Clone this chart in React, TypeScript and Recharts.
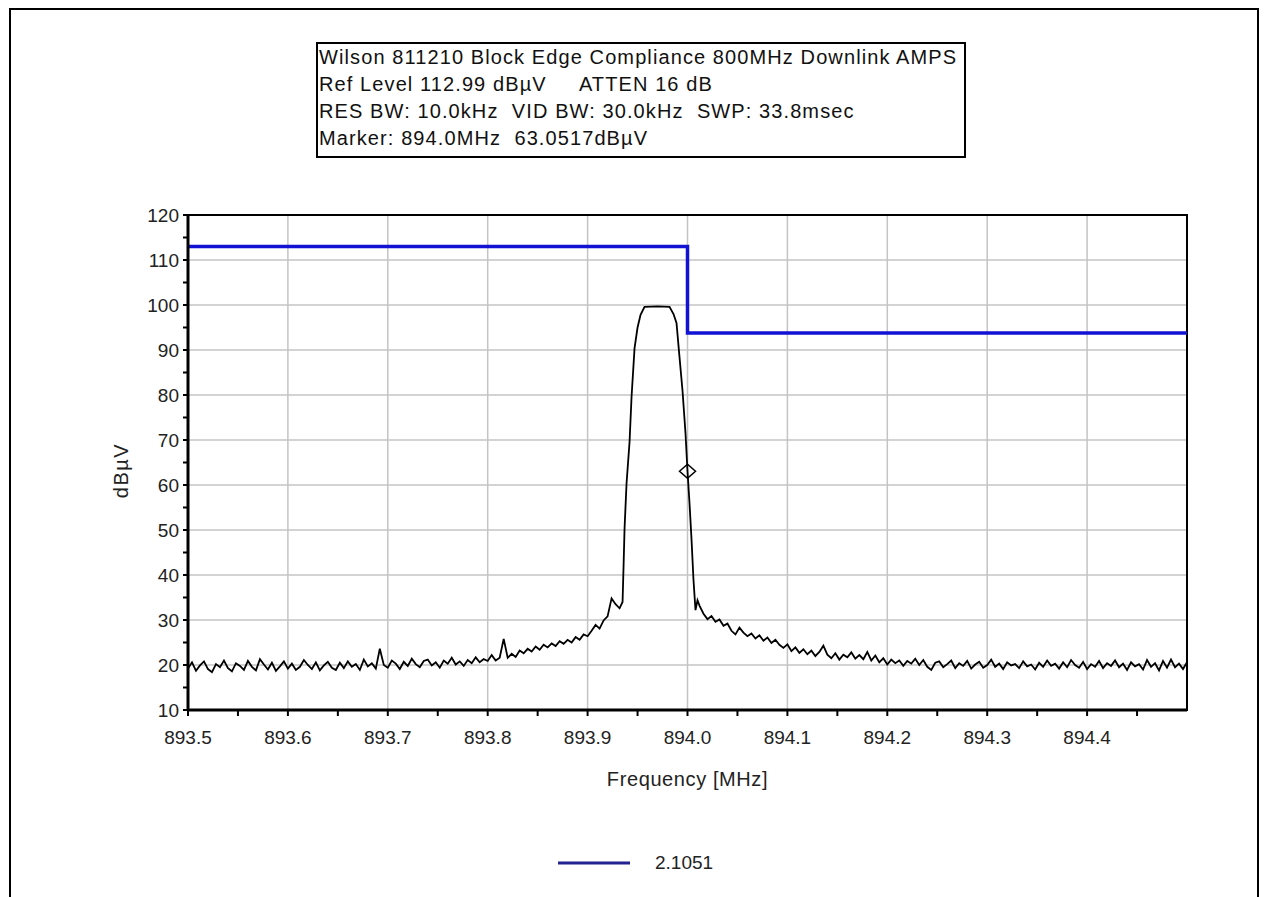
import {
  LineChart,
  Line,
  XAxis,
  YAxis,
  CartesianGrid,
  ReferenceArea,
  ReferenceDot,
  Label,
} from "recharts";

// sweep of the analyzer trace, left and right of the carrier
const leftStart = 893.5;
const rightStart = 894.012;
const sweepStep = 0.004;

const leftNoise = [
  19.2, 20.6, 18.7, 19.9, 20.8, 19.1, 18.4, 20.2, 19.5, 21.0,
  19.3, 18.6, 20.4, 19.8, 18.9, 20.9, 19.6, 18.8, 21.3, 20.1,
  19.0, 20.5, 18.7, 19.7, 20.8, 19.2, 20.3, 18.9, 19.6, 21.1,
  20.0, 19.1, 20.6, 18.8, 19.9, 20.7, 19.4, 18.9, 20.5, 19.3,
  20.8, 19.6, 20.2, 18.9, 21.2, 19.7, 20.4, 19.2, 23.6, 20.0,
  19.4, 21.0, 20.3, 19.1, 20.7, 19.8, 21.4, 20.2, 19.5, 20.9,
  21.2, 19.9, 20.6, 19.4, 21.0, 20.3, 21.6, 20.1, 20.8, 19.8,
  21.1, 20.4, 21.7, 20.6, 21.3, 20.9, 22.2, 21.0, 21.6, 25.8,
  21.6, 22.5, 21.8, 23.2, 22.6, 23.6, 23.0, 24.1, 23.4, 24.5,
  23.9, 24.8, 24.2, 25.3, 24.7, 25.6, 25.0, 26.2, 25.6, 26.8,
  26.4, 27.6, 28.9, 28.1, 29.9, 30.8, 34.8,
];

const peakFreq = [
  893.928, 893.932, 893.935, 893.936, 893.937, 893.939, 893.942, 893.944,
  893.947, 893.95, 893.953, 893.957, 893.97, 893.982, 893.986, 893.989,
  893.992, 893.995, 893.998, 894.0, 894.002, 894.004, 894.006, 894.008,
  894.01,
];
const peakLevel = [
  33.5, 32.6, 34.0, 42.0, 50.4, 60.4, 69.6, 79.6,
  90.4, 95.0, 97.8, 99.6, 99.7, 99.6, 98.0, 96.0,
  88.4, 81.0, 71.5, 63.05, 56.0, 48.0, 38.9, 32.2,
  34.4,
];

const rightNoise = [
  33.2, 31.4, 30.2, 30.9, 29.6, 30.1, 28.7, 29.2, 27.6, 26.8,
  28.3, 27.2, 26.4, 27.0, 25.9, 26.6, 25.4, 26.1, 24.9, 25.6,
  24.5, 23.8, 24.6, 23.1, 23.9, 22.7, 23.5, 22.4, 23.2, 22.0,
  22.9, 24.3, 22.3, 21.5, 22.6, 21.2, 22.3, 21.7, 22.8, 21.4,
  22.2, 21.3, 22.9, 21.0, 22.1, 20.6, 21.5, 20.1, 21.2, 20.4,
  21.0, 19.8, 20.9, 20.3, 21.4, 20.0, 21.1, 19.6, 18.9, 20.5,
  20.8, 19.5, 20.2, 21.0, 19.3, 20.4, 19.8, 20.9, 19.2, 20.1,
  20.7, 19.4, 20.0, 21.2, 19.6, 20.3, 19.1, 20.6, 19.9, 20.2,
  19.3, 20.8, 19.7, 20.1, 19.0, 20.5, 19.6, 21.0, 19.8, 20.3,
  19.2, 20.6, 19.5, 21.1, 20.0, 19.4, 20.7, 19.1, 20.2, 19.6,
  20.9, 19.3, 20.4, 19.8, 21.0, 19.5, 20.3, 18.9, 20.6, 19.7,
  20.2, 19.0, 21.1, 19.6, 20.4, 18.8, 20.9, 19.4, 21.2, 19.5,
  20.3, 19.1, 20.6,
];

// block edge limit line (series "2.1051")
const limitFreq = [893.5, 894.0, 894.0, 894.5];
const limitLevel = [112.99, 112.99, 93.8, 93.8];

const markerFreq = 894.0;
const markerLevel = 63.05;

const xTicks = [
  893.5, 893.55, 893.6, 893.65, 893.7, 893.75, 893.8, 893.85, 893.9, 893.95,
  894.0, 894.05, 894.1, 894.15, 894.2, 894.25, 894.3, 894.35, 894.4, 894.45,
];
const xMajor = [893.5, 893.6, 893.7, 893.8, 893.9, 894.0, 894.1, 894.2, 894.3, 894.4];
const yTicks = [
  10, 15, 20, 25, 30, 35, 40, 45, 50, 55, 60, 65, 70, 75, 80, 85, 90, 95, 100,
  105, 110, 115, 120,
];
const yMajor = [10, 20, 30, 40, 50, 60, 70, 80, 90, 100, 110, 120];

const infoLines = [
  "Wilson 811210 Block Edge Compliance 800MHz Downlink AMPS",
  "Ref Level 112.99 dBµV     ATTEN 16 dB",
  "RES BW: 10.0kHz  VID BW: 30.0kHz  SWP: 33.8msec",
  "Marker: 894.0MHz  63.0517dBµV",
];

const traceData = [
  ...leftNoise.map((v, i) => ({ f: +(leftStart + i * sweepStep).toFixed(4), v })),
  ...peakFreq.map((f, i) => ({ f, v: peakLevel[i] })),
  ...rightNoise.map((v, i) => ({ f: +(rightStart + i * sweepStep).toFixed(4), v })),
];
const limitData = limitFreq.map((f, i) => ({ f, v: limitLevel[i] }));

const font = "Arial, 'Liberation Sans', sans-serif";

const Diamond = (p: { cx?: number; cy?: number }) => {
  const { cx = 0, cy = 0 } = p;
  return (
    <polygon
      points={`${cx - 8},${cy} ${cx},${cy - 7} ${cx + 8},${cy} ${cx},${cy + 7}`}
      fill="none"
      stroke="#000"
      strokeWidth={1.5}
    />
  );
};

export default function App() {
  return (
    <div style={{ position: "relative", width: 1252, height: 900, fontFamily: font }}>
      <div
        style={{
          position: "absolute",
          left: 1,
          top: 0,
          width: 1250,
          height: 930,
          border: "2px solid #000",
          boxSizing: "border-box",
        }}
      />
      <div
        style={{
          position: "absolute",
          left: 308,
          top: 34,
          width: 650,
          height: 116,
          border: "2px solid #000",
          boxSizing: "border-box",
          paddingLeft: 1,
          fontSize: 20,
          letterSpacing: 1.1,
          lineHeight: "27px",
          color: "#111",
          whiteSpace: "pre",
          background: "#fff",
          overflow: "hidden",
        }}
      >
        {infoLines.map((l) => (
          <div key={l}>{l}</div>
        ))}
      </div>

      <div style={{ position: "absolute", left: 0, top: 0 }}>
        <LineChart
          width={1250}
          height={880}
          margin={{ top: 207, right: 71, bottom: 138, left: 0 }}
        >
          <CartesianGrid
            stroke="#c4c4c4"
            strokeWidth={1.5}
            verticalValues={xMajor}
            horizontalValues={yMajor}
          />
          <XAxis
            dataKey="f"
            type="number"
            domain={[893.5, 894.5]}
            ticks={xTicks}
            interval={0}
            allowDataOverflow
            height={40}
            tickSize={6}
            tickMargin={15}
            tickFormatter={(v: number) =>
              Math.round(v * 100) % 10 === 0 ? v.toFixed(1) : ""
            }
            tick={{ fill: "#222", fontSize: 19, fontFamily: font }}
            axisLine={{ stroke: "#000", strokeWidth: 3 }}
            tickLine={{ stroke: "#000", strokeWidth: 2 }}
          >
            <Label
              value="Frequency [MHz]"
              position="bottom"
              offset={22}
              style={{ fill: "#222", fontSize: 20, letterSpacing: 0.6, fontFamily: font }}
            />
          </XAxis>
          <YAxis
            type="number"
            domain={[10, 120]}
            ticks={yTicks}
            interval={0}
            allowDataOverflow
            width={180}
            tickSize={5}
            tickMargin={4}
            tickFormatter={(v: number) => (v % 10 === 0 ? String(v) : "")}
            tick={{ fill: "#222", fontSize: 19, fontFamily: font }}
            axisLine={{ stroke: "#000", strokeWidth: 3 }}
            tickLine={{ stroke: "#000", strokeWidth: 2 }}
          >
            <Label
              content={({ viewBox }: any) => {
                const cx = 113;
                const cy = viewBox.y + viewBox.height / 2 + 8;
                return (
                  <text
                    x={cx}
                    y={cy}
                    transform={`rotate(-90, ${cx}, ${cy})`}
                    textAnchor="middle"
                    dominantBaseline="central"
                    fill="#222"
                    fontSize={20}
                    letterSpacing={1.5}
                    fontFamily={font}
                  >
                    dBµV
                  </text>
                );
              }}
            />
          </YAxis>
          <ReferenceArea
            x1={893.5}
            x2={894.5}
            y1={10}
            y2={120}
            fill="none"
            stroke="#000"
            strokeWidth={2}
          />
          <Line
            data={traceData}
            dataKey="v"
            type="linear"
            stroke="#000"
            strokeWidth={1.8}
            dot={false}
            isAnimationActive={false}
          />
          <Line
            data={limitData}
            dataKey="v"
            name="2.1051"
            type="linear"
            stroke="#1212d4"
            strokeWidth={3.5}
            dot={false}
            isAnimationActive={false}
          />
          <ReferenceDot x={markerFreq} y={markerLevel} r={8} shape={<Diamond />} />
        </LineChart>
      </div>

      <div
        style={{
          position: "absolute",
          left: 550,
          top: 843,
          display: "flex",
          alignItems: "center",
          fontSize: 19,
          color: "#222",
          height: 24,
        }}
      >
        <svg width={72} height={6} style={{ marginRight: 25 }}>
          <line x1={0} y1={3} x2={72} y2={3} stroke="#23238f" strokeWidth={3} />
        </svg>
        <span>2.1051</span>
      </div>
    </div>
  );
}
